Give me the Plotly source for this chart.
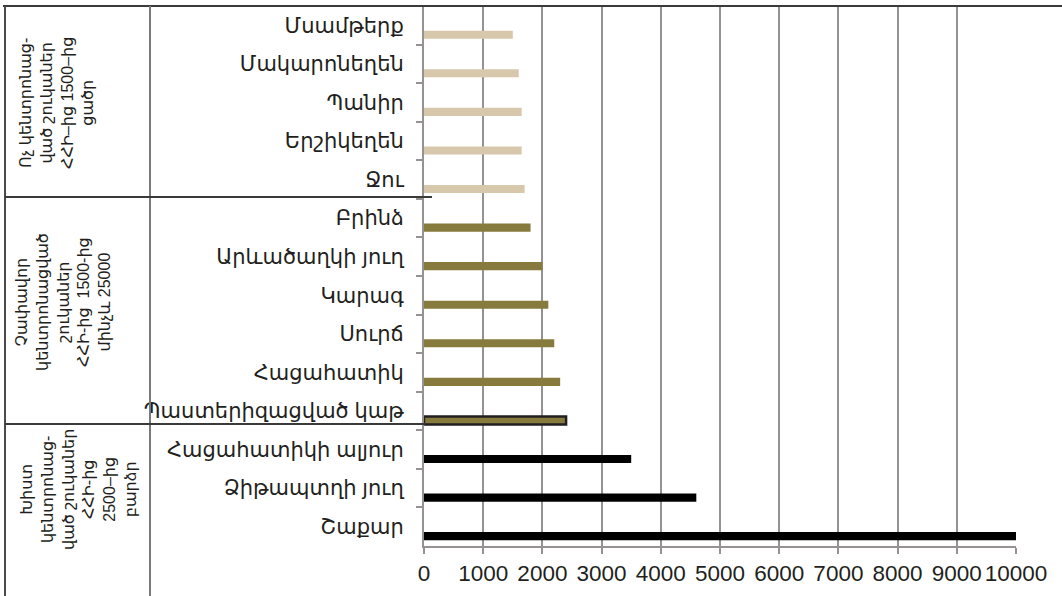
import plotly.graph_objects as go

# categories from top to bottom
products = ['Մսամթերք', 'Մակարոնեղեն', 'Պանիր', 'Երշիկեղեն', 'Ջու',
            'Բրինձ', 'Արևածաղկի յուղ', 'Կարագ', 'Սուրճ', 'Հացահատիկ',
            'Պաստերիզացված կաթ',
            'Հացահատիկի ալյուր', 'Ձիթապտղի յուղ', 'Շաքար']
hhi = [1500, 1600, 1650, 1650, 1700,
       1800, 2000, 2100, 2200, 2300, 2400,
       3500, 4600, 10000]
group = [0, 0, 0, 0, 0,
         1, 1, 1, 1, 1, 1,
         2, 2, 2]
group_names = [
    'Ոչ կենտրոնաց-<br>ված շուկաներ<br>ՀՀԻ–ից 1500–ից<br>ցածր',
    'Չափավոր<br>կենտրոնացված<br>շուկաներ<br>ՀՀԻ-ից  1500-ից<br>մինչև 25000',
    'Խիստ<br>կենտրոնաց-<br>ված շուկաներ<br>ՀՀԻ-ից<br>2500–ից<br>բարձր',
]
x_ticks = [0, 1000, 2000, 3000, 4000, 5000, 6000, 7000, 8000, 9000, 10000]

group_colors = ['#d7c8ab', '#867b3d', '#000000']
W, H = 1062, 596
L, R, T, B = 424, 46, 6, 50
pw, ph = W - L - R, H - T - B


def px(x):
    return (x - L) / pw


def py(y):
    return (H - B - y) / ph


colors = [group_colors[g] for g in group]
line_w = [2.5 if p == 'Պաստերիզացված կաթ' else 0 for p in products]

fig = go.Figure(go.Bar(
    y=products, x=hhi, orientation='h',
    marker=dict(color=colors, line=dict(color='#231f20', width=line_w)),
    width=0.21, offset=0.14,
))

txt = '#231f20'
axcol = '#969192'
shapes = [
    dict(type='line', x0=px(3), x1=px(1062), y0=py(6), y1=py(6), line=dict(color='#3a3a3a', width=2)),
    dict(type='line', x0=px(5), x1=px(5), y0=py(6), y1=py(600), line=dict(color='#4a4a4a', width=2)),
    dict(type='line', x0=px(150), x1=px(150), y0=py(6), y1=py(600), line=dict(color='#7a7a7a', width=2)),
    dict(type='line', x0=px(5), x1=px(432), y0=py(197), y1=py(197), line=dict(color='#3a3a3a', width=2)),
    dict(type='line', x0=px(5), x1=px(425), y0=py(424), y1=py(424), line=dict(color='#3a3a3a', width=2)),
]
for s in shapes:
    s.update(xref='paper', yref='paper', layer='above')

annots = []
for name, xc, yc in zip(group_names, [57, 63, 78], [103, 302, 490]):
    annots.append(dict(text=name, x=px(xc), y=py(yc), xref='paper', yref='paper',
                       xanchor='center', yanchor='middle',
                       showarrow=False, textangle=-90, align='center',
                       font=dict(size=16, color=txt)))

fig.update_layout(
    width=W, height=H,
    margin=dict(l=L, r=R, t=T, b=B, autoexpand=False),
    paper_bgcolor='white', plot_bgcolor='white',
    showlegend=False,
    font=dict(family='Liberation Sans, Arial, Noto Sans, DejaVu Sans', color=txt),
    shapes=shapes, annotations=annots,
    xaxis=dict(range=[0, 10000], tickvals=x_ticks, ticktext=[str(v) for v in x_ticks],
               showgrid=True, gridcolor=axcol, gridwidth=1.5,
               showline=True, linecolor=axcol, linewidth=2,
               ticks='outside', ticklen=6, tickcolor=axcol, tickwidth=1.5, tickangle=0,
               tickfont=dict(size=22.5, color=txt), zeroline=False, automargin=False),
    yaxis=dict(categoryorder='array', categoryarray=products, autorange='reversed',
               showline=True, linecolor=axcol, linewidth=2,
               ticks='outside', tickson='boundaries', ticklen=6, tickcolor=axcol, tickwidth=1.5,
               tickfont=dict(size=21, color=txt), ticklabelstandoff=14,
               showgrid=False, zeroline=False, automargin=False),
)

fig.write_html('out.html', config={'displayModeBar': False},
               post_script="document.body.style.margin='0';")
